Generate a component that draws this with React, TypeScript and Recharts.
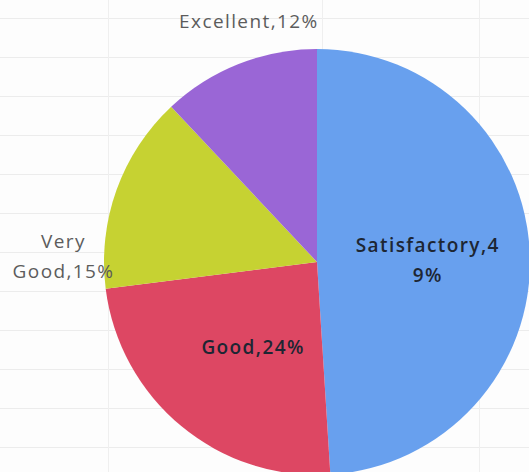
import { Cell, Pie, PieChart } from "recharts";

const NAMES = ["Satisfactory", "Good", "Very Good", "Excellent"];
const VALUES = [49, 24, 15, 12];
const COLORS = ["#68a0ee", "#dd4763", "#c6d232", "#9a66d6"];

// label layout, as fractions of the pie radius from its centre
const LABEL_SPOTS: Record<string, { dx: number; dy: number; lines: string[]; inside: boolean }> = {
  Satisfactory: { dx: 0.52, dy: -0.01, lines: ["Satisfactory,4", "9%"], inside: true },
  Good: { dx: -0.3, dy: 0.4, lines: ["Good,24%"], inside: true },
  "Very Good": { dx: -1.19, dy: -0.03, lines: ["Very", "Good,15%"], inside: false },
  Excellent: { dx: -0.32, dy: -1.13, lines: ["Excellent,12%"], inside: false },
};

const data = NAMES.map((name, i) => ({ name, value: VALUES[i] }));

const W = 529;
const H = 472;

function renderLabel(props: any) {
  const { cx, cy, outerRadius, name } = props;
  const spot = LABEL_SPOTS[name];
  if (!spot) return null;
  const x = cx + spot.dx * outerRadius;
  const y = cy + spot.dy * outerRadius;
  const lh = 30;
  const top = y - ((spot.lines.length - 1) * lh) / 2;
  return (
    <text
      x={x}
      y={top}
      textAnchor="middle"
      dominantBaseline="central"
      fontFamily="'Open Sans', 'Noto Sans', sans-serif"
      fontSize={19}
      letterSpacing={1.4}
      fill={spot.inside ? "#1d2633" : "#5c5c5c"}
      fontWeight={spot.inside ? 600 : 400}
    >
      {spot.lines.map((l, i) => (
        <tspan key={i} x={x} dy={i === 0 ? 0 : lh}>
          {l}
        </tspan>
      ))}
    </text>
  );
}

export default function App() {
  return (
    <div
      style={{
        position: "absolute",
        left: 0,
        top: 0,
        width: W,
        height: H,
        overflow: "hidden",
        backgroundColor: "#fdfdfd",
        backgroundImage:
          "linear-gradient(to right, transparent 108px, #efefef 108px, #efefef 109px, transparent 109px, transparent 322px, #efefef 322px, #efefef 323px, transparent 323px, transparent 479px, #efefef 479px, #efefef 480px, transparent 480px), repeating-linear-gradient(to bottom, transparent 0px, transparent 18px, #ececec 18px, #ececec 19px, transparent 19px, transparent 39px)",
      }}
    >
      <PieChart width={W} height={H} margin={{ top: 0, right: 0, bottom: 0, left: 0 }}>
        <Pie
          data={data}
          dataKey="value"
          nameKey="name"
          cx={317}
          cy={262}
          outerRadius={213}
          startAngle={90}
          endAngle={-270}
          stroke="none"
          label={renderLabel}
          labelLine={false}
          isAnimationActive={false}
        >
          {data.map((d, i) => (
            <Cell key={d.name} fill={COLORS[i]} />
          ))}
        </Pie>
      </PieChart>
    </div>
  );
}
